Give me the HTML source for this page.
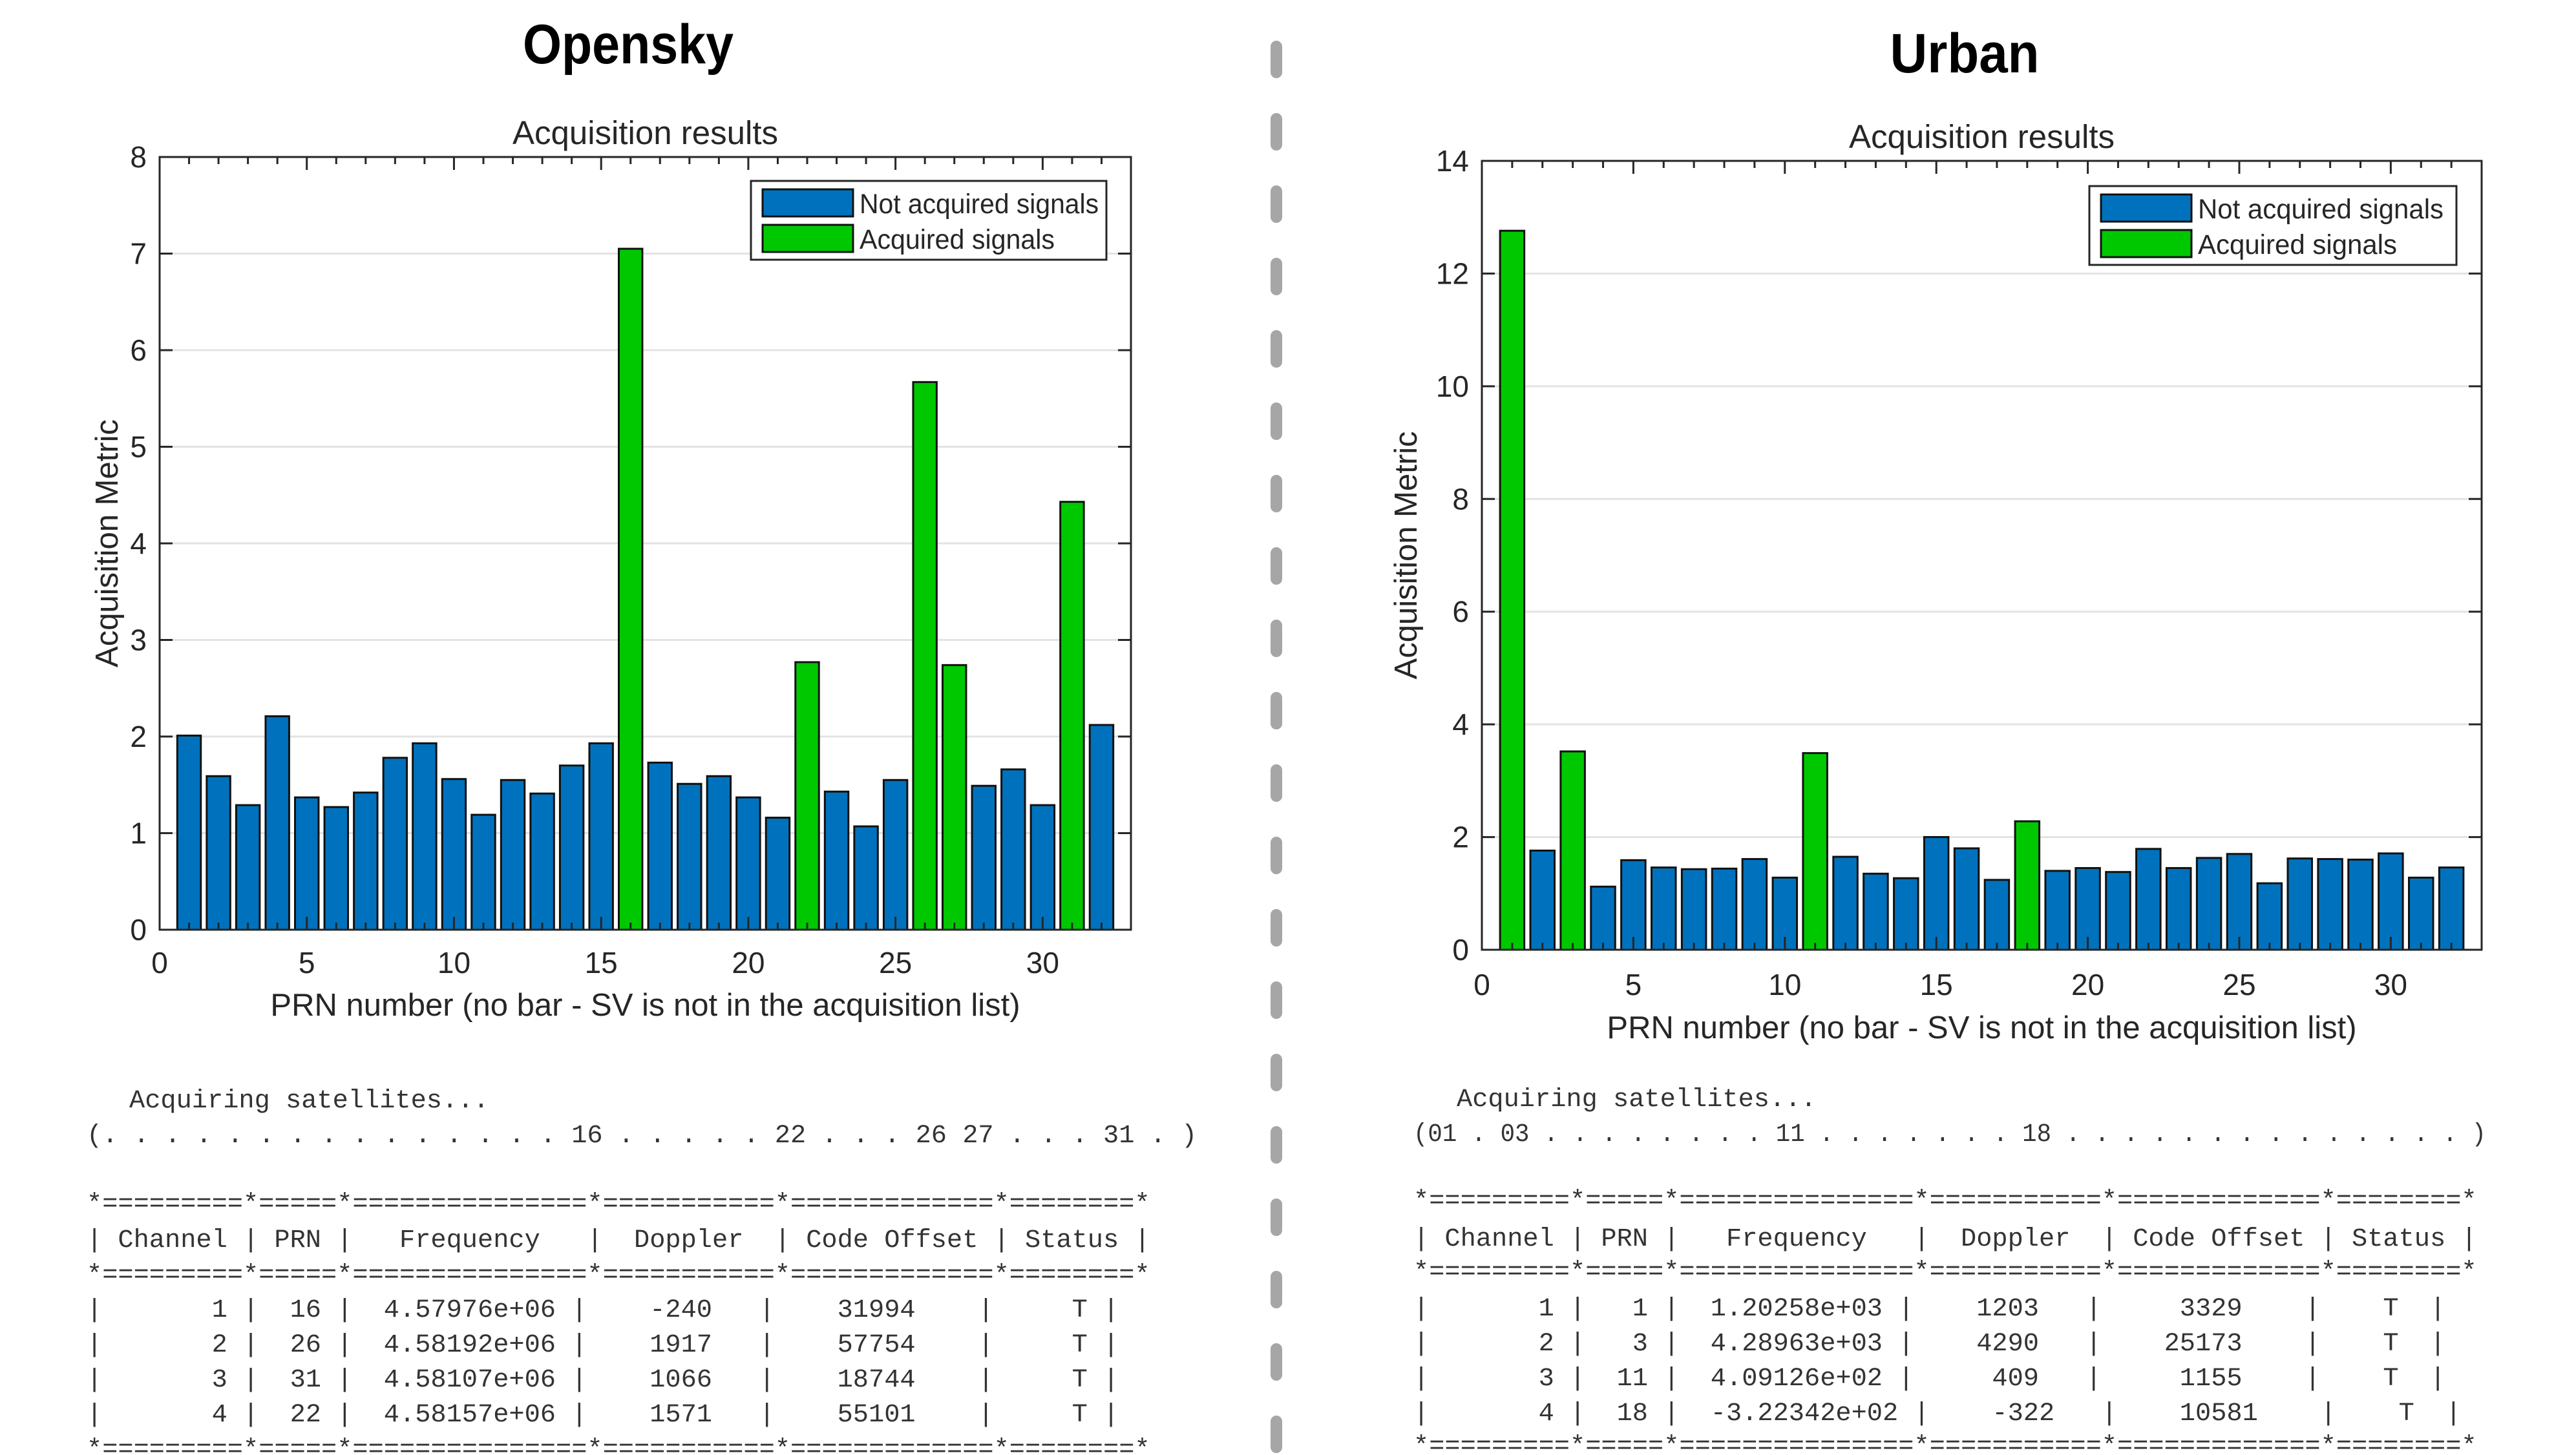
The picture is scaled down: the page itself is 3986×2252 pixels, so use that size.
<!DOCTYPE html>
<html><head><meta charset="utf-8"><style>
html,body{margin:0;padding:0;background:#fff;}
svg{display:block;}
.t{font-family:"Liberation Sans",sans-serif;fill:#262626;}
.m{font-family:"Liberation Mono",monospace;font-size:40px;fill:#333;white-space:pre;}
</style></head><body>
<svg id="root" width="3986" height="2252" viewBox="0 0 3986 2252" xmlns="http://www.w3.org/2000/svg">
<text x="972" y="98" text-anchor="middle" font-family="Liberation Sans, sans-serif" font-size="86" font-weight="bold" fill="#000" textLength="326" lengthAdjust="spacingAndGlyphs">Opensky</text>
<text x="3040" y="112" text-anchor="middle" font-family="Liberation Sans, sans-serif" font-size="86" font-weight="bold" fill="#000" textLength="231" lengthAdjust="spacingAndGlyphs">Urban</text>
<g id="divider"></g>
<g id="left"></g>
<g id="right"></g>
<g id="texts"></g>
</svg>
<script>
const prns = [1,2,3,4,5,6,7,8,9,10,11,12,13,14,15,16,17,18,19,20,21,22,23,24,25,26,27,28,29,30,31,32];
const openskyValues = [2.01,1.59,1.29,2.21,1.37,1.27,1.42,1.78,1.93,1.56,1.19,1.55,1.41,1.70,1.93,7.05,1.73,1.51,1.59,1.37,1.16,2.77,1.43,1.07,1.55,5.67,2.74,1.49,1.66,1.29,4.43,2.12];
const openskyAcquired = [16,22,26,27,31];
const urbanValues = [12.76,1.76,3.52,1.12,1.59,1.46,1.43,1.44,1.61,1.28,3.49,1.65,1.35,1.27,2.00,1.80,1.24,2.28,1.40,1.45,1.38,1.79,1.45,1.63,1.70,1.18,1.62,1.61,1.60,1.71,1.28,1.46];
const urbanAcquired = [1,3,11,18];
const openskyYTicks = [0,1,2,3,4,5,6,7,8];
const urbanYTicks = [0,2,4,6,8,10,12,14];
const xTicks = [0,5,10,15,20,25,30];

const NS = "http://www.w3.org/2000/svg";
function mk(tag, attrs, parent){
  const e = document.createElementNS(NS, tag);
  for (const k in attrs) e.setAttribute(k, attrs[k]);
  parent.appendChild(e); return e;
}

function chart(g, cfg){
  const L=cfg.left,R=cfg.right,T=cfg.top,B=cfg.bottom;
  const xs = v => L + v/33*(R-L);
  const ys = v => B - v/cfg.ymax*(B-T);
  cfg.yticks.forEach(t=>{
    if(t>0 && t<cfg.ymax){
      const l = mk('line',{x1:L,x2:R,y1:ys(t),y2:ys(t),stroke:'#e3e3e3','stroke-width':3},g);
      
      
    }
  });
  prns.forEach((p,i)=>{
    const acq = cfg.acquired.includes(p);
    const r = mk('rect',{x:xs(p-0.4),y:ys(cfg.values[i]),width:xs(0.8)-xs(0),height:ys(0)-ys(cfg.values[i]),fill:acq?'#00c800':'#0072bd',stroke:'#111','stroke-width':3},g);
    
    
  });
  const box = mk('rect',{x:L,y:T,width:R-L,height:B-T,fill:'none',stroke:'#262626','stroke-width':3},g);
  
  
  for(let v=0; v<=33; v++){
    const major = xTicks.includes(v);
    const len = major?20:11;
    mk('line',{x1:xs(v),x2:xs(v),y1:B,y2:B-len,stroke:'#262626','stroke-width':3},g);
    mk('line',{x1:xs(v),x2:xs(v),y1:T,y2:T+len,stroke:'#262626','stroke-width':3},g);
  }
  xTicks.forEach(t=>{
    const tx = mk('text',{x:xs(t),y:cfg.xlabY,'text-anchor':'middle','font-size':46,class:'t'},g);
    tx.textContent = t;
    
    
  });
  cfg.yticks.forEach(t=>{
    mk('line',{x1:L,x2:L+20,y1:ys(t),y2:ys(t),stroke:'#262626','stroke-width':3},g);
    mk('line',{x1:R,x2:R-20,y1:ys(t),y2:ys(t),stroke:'#262626','stroke-width':3},g);
    const tx = mk('text',{x:L-20,y:ys(t)+16,'text-anchor':'end','font-size':46,class:'t'},g);
    tx.textContent = t;
    
    
  });
  const title = mk('text',{x:(L+R)/2,y:T-20,'text-anchor':'middle','font-size':51,class:'t',fill:'#000'},g);
  title.textContent='Acquisition results';
  
  
  const xl = mk('text',{x:(L+R)/2,y:cfg.xTitleY,'text-anchor':'middle','font-size':49,class:'t'},g);
  xl.textContent='PRN number (no bar - SV is not in the acquisition list)';
  
  
  const yl = mk('text',{x:0,y:0,'text-anchor':'middle','font-size':49,class:'t',transform:`translate(${cfg.yTitleX},${(T+B)/2}) rotate(-90)`},g);
  yl.textContent='Acquisition Metric';
  
  
  const lg = mk('g',{},g);
  
  
  const lx=cfg.legX, ly=cfg.legY;
  mk('rect',{x:lx,y:ly,width:cfg.legW,height:122,fill:'#fff',stroke:'#262626','stroke-width':3},lg);
  const s1 = mk('rect',{x:lx+18,y:ly+13,width:140,height:42,fill:'#0072bd',stroke:'#111','stroke-width':3},lg);
  
  
  const s2 = mk('rect',{x:lx+18,y:ly+68,width:140,height:42,fill:'#00c800',stroke:'#111','stroke-width':3},lg);
  
  
  const t1 = mk('text',{x:lx+168,y:ly+50,'font-size':43,class:'t',fill:'#000',textLength:cfg.legT1,lengthAdjust:'spacingAndGlyphs'},lg);
  t1.textContent='Not acquired signals';
  
  
  const t2 = mk('text',{x:lx+168,y:ly+105,'font-size':43,class:'t',fill:'#000',textLength:cfg.legT2,lengthAdjust:'spacingAndGlyphs'},lg);
  t2.textContent='Acquired signals';
  
  
}

chart(document.getElementById('left'),{left:247,right:1750,top:243,bottom:1439,ymax:8,yticks:openskyYTicks,values:openskyValues,acquired:openskyAcquired,xlabY:1506,xTitleY:1572,yTitleX:182,legX:1162,legY:280,legW:550,legT1:370,legT2:302});
chart(document.getElementById('right'),{left:2293,right:3840,top:249,bottom:1470,ymax:14,yticks:urbanYTicks,values:urbanValues,acquired:urbanAcquired,xlabY:1540,xTitleY:1607,yTitleX:2192,legX:3233,legY:288,legW:568,legT1:380,legT2:308});

const dv = document.getElementById('divider');
for(let y=63; y<2252; y+=112){
  const d = mk('rect',{x:1966,y:y,width:18,height:58,rx:9,fill:'#a6a6a6'},dv);
  
  
}

const border = "*=========*=====*===============*===========*=============*========*";
const header = "| Channel | PRN |   Frequency   |  Doppler  | Code Offset | Status |";
const leftLines = [
 [200,1701,"Acquiring satellites..."],
 [134,1755,"(. . . . . . . . . . . . . . . 16 . . . . . 22 . . . 26 27 . . . 31 . )"],
 [134,1861,border],[134,1917,header],[134,1971,border],
 [134,2025,"|       1 |  16 |  4.57976e+06 |    -240   |    31994    |     T |"],
 [134,2079,"|       2 |  26 |  4.58192e+06 |    1917   |    57754    |     T |"],
 [134,2133,"|       3 |  31 |  4.58107e+06 |    1066   |    18744    |     T |"],
 [134,2187,"|       4 |  22 |  4.58157e+06 |    1571   |    55101    |     T |"],
 [134,2241,border]
];
const rightLines = [
 [2254,1699,"Acquiring satellites..."],
 [2187,1753,"(01 . 03 . . . . . . . . 11 . . . . . . . 18 . . . . . . . . . . . . . . )"],
 [2187,1856,border],[2187,1915,header],[2187,1966,border],
 [2187,2023,"|       1 |   1 |  1.20258e+03 |    1203   |     3329    |    T  |"],
 [2187,2077,"|       2 |   3 |  4.28963e+03 |    4290   |    25173    |    T  |"],
 [2187,2131,"|       3 |  11 |  4.09126e+02 |     409   |     1155    |    T  |"],
 [2187,2185,"|       4 |  18 |  -3.22342e+02 |    -322   |    10581    |    T  |"],
 [2187,2236,border]
];
const tg = document.getElementById('texts');
leftLines.concat(rightLines).forEach(([x,y,s])=>{
  const w = s.startsWith('(01') ? 1660 : s.length*24.2;
  const t = mk('text',{x:x,y:y+13,class:'m',textLength:w,lengthAdjust:'spacingAndGlyphs'},tg);
  t.textContent = s;
  
  
});
</script>
</body></html>
